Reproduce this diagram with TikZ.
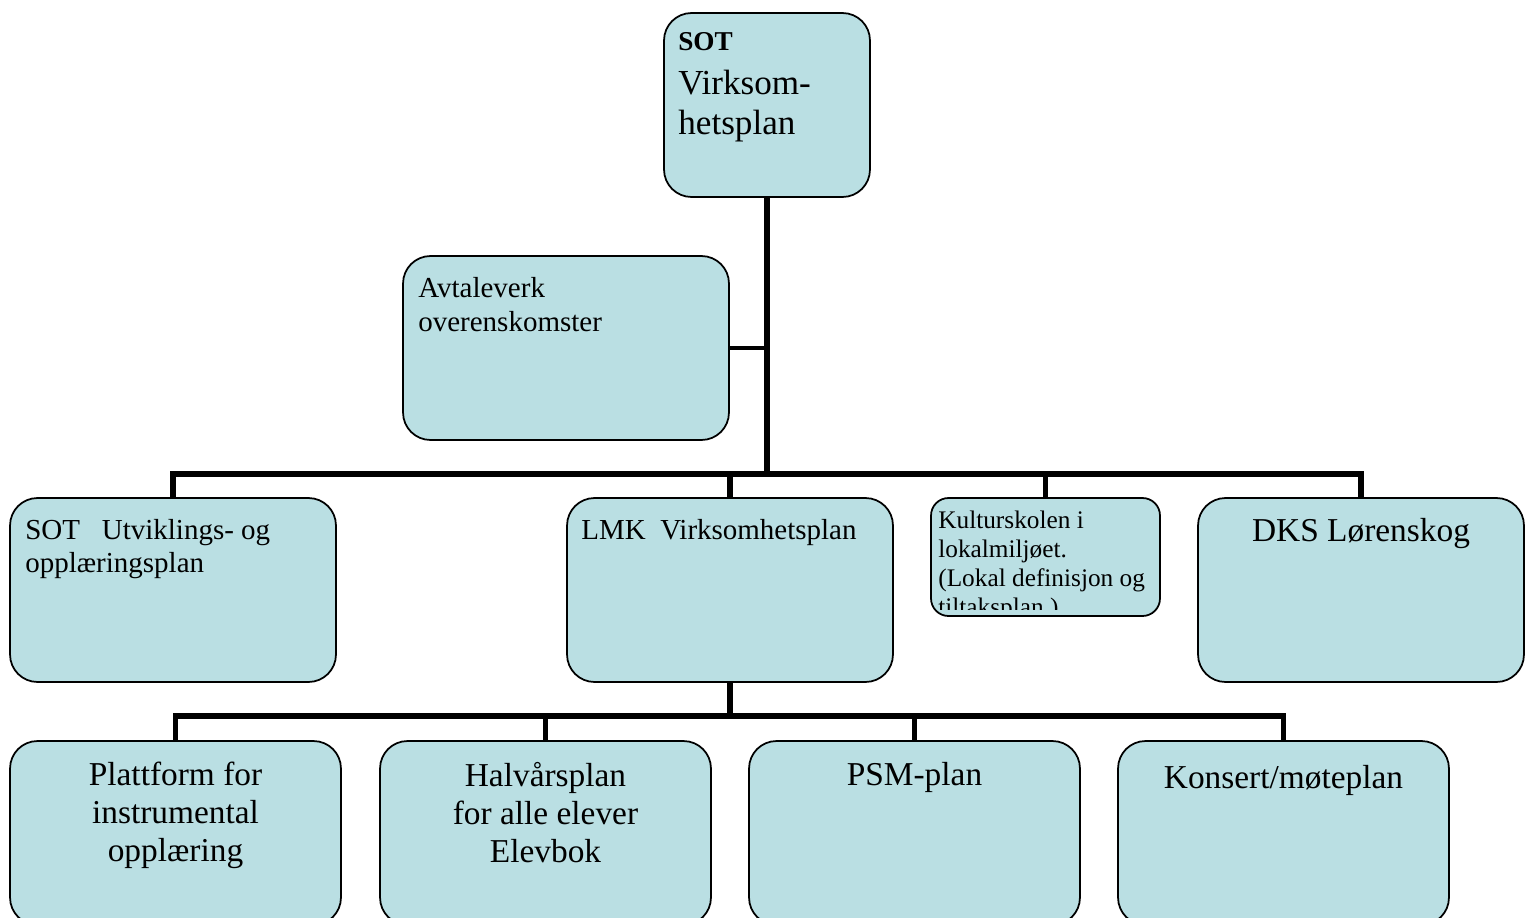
\documentclass[tikz,border=0pt]{standalone}
\usepackage{fontspec}
\setmainfont{Liberation Serif}
\usetikzlibrary{calc}
\definecolor{boxfill}{RGB}{186,223,227}
\tikzset{
  box/.style={draw, line width=1pt, fill=boxfill, rounded corners=0.55cm, inner sep=0},
  link/.style={line width=3.3pt},
  txt/.style={inner sep=0, align=left, anchor=north west},
  mid/.style={inner sep=0, align=center, anchor=north},
}
\begin{document}
\begin{tikzpicture}[x=0.02cm, y=-0.02cm]
\useasboundingbox (0,0) rectangle (1529,917);

% boxes
\node[box, minimum width=4.12cm, minimum height=3.68cm] (top) at (767,105) {};
\node[box, minimum width=6.52cm, minimum height=3.68cm] (avt) at (566,348) {};
\node[box, minimum width=6.52cm, minimum height=3.68cm] (sotu) at (173,590) {};
\node[box, minimum width=6.52cm, minimum height=3.68cm] (lmk) at (730,590) {};
\node[box, minimum width=4.58cm, minimum height=2.36cm, rounded corners=0.35cm] (kult) at (1045.5,557) {};
\node[box, minimum width=6.52cm, minimum height=3.68cm] (dks) at (1361,590) {};
\node[box, minimum width=6.62cm, minimum height=3.68cm] (p1) at (175.5,833) {};
\node[box, minimum width=6.62cm, minimum height=3.68cm] (p2) at (545.5,833) {};
\node[box, minimum width=6.62cm, minimum height=3.68cm] (p3) at (914.5,833) {};
\node[box, minimum width=6.62cm, minimum height=3.68cm] (p4) at (1283.5,833) {};

% texts
\node[txt, font=\bfseries\fontsize{15.5}{18}\selectfont] (topa) at (678,32) {SOT};
\node[txt, font=\fontsize{20}{22.7}\selectfont] (topb) at (678,70) {Virksom-\\hetsplan};
\node[txt, font=\fontsize{16.5}{19.3}\selectfont] (avtt) at (418,277) {Avtaleverk\\overenskomster};
\node[txt, font=\fontsize{16.5}{18.7}\selectfont] (sotut) at (25,519) {SOT\ \ \ Utviklings- og\\oppl\ae ringsplan};
\node[txt, font=\fontsize{16.5}{18.7}\selectfont] (lmkt) at (581,519) {LMK\ \ Virksomhetsplan};
\begin{scope}
\clip (kult.north west) rectangle ($(kult.south east)+(0,-7)$);
\node[txt, font=\fontsize{14.4}{16.4}\selectfont] (kultt) at (938,511) {Kulturskolen i\\lokalmiljøet.\\(Lokal definisjon og\\tiltaksplan.)};
\end{scope}
\node[mid, font=\fontsize{19}{21.5}\selectfont] (dkst) at (1361,518) {DKS Lørenskog};
\node[mid, font=\fontsize{19}{21.5}\selectfont] (p1t) at (175.5,762) {Plattform for\\instrumental\\opplæring};
\node[mid, font=\fontsize{19}{21.5}\selectfont] (p2t) at (545.5,762) {Halvårsplan\\for alle elever\\Elevbok};
\node[mid, font=\fontsize{19}{21.5}\selectfont] (p3t) at (914.5,762) {PSM-plan};
\node[mid, font=\fontsize{19}{21.5}\selectfont] (p4t) at (1283.5,765) {Konsert/møteplan};

% connectors
\coordinate (j1) at (767,474);
\coordinate (j2) at (730,716);
\draw[link] (top.south) -- (j1);
\draw[link, line width=2.8pt] (avt.east) -- (avt.east -| top.south);
\draw[link] (sotu.north) -- (sotu.north |- j1) -- (dks.north |- j1) -- (dks.north);
\foreach \n in {lmk,kult} \draw[link] (\n.north |- j1) -- (\n.north);
\draw[link] (lmk.south) -- (j2);
\draw[link] (p1.north) -- (p1.north |- j2) -- (p4.north |- j2) -- (p4.north);
\foreach \n in {p2,p3} \draw[link] (\n.north |- j2) -- (\n.north);
\end{tikzpicture}
\end{document}
